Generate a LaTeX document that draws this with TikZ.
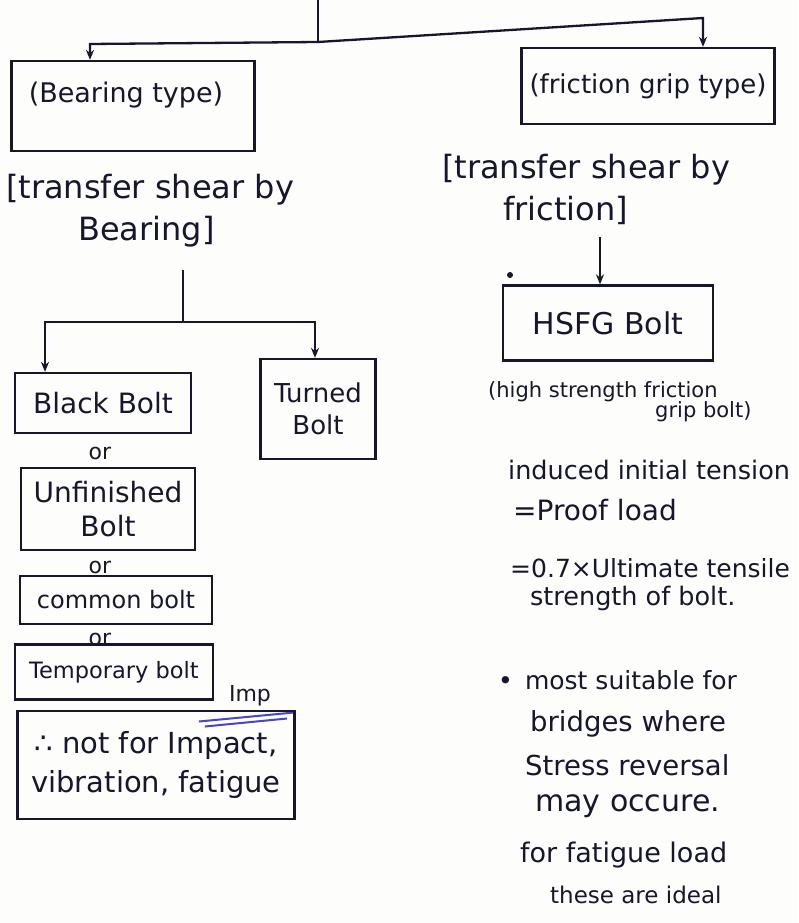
\documentclass[tikz,border=0pt]{standalone}
\usepackage{fontspec}
\setmainfont{DejaVu Sans}
\usetikzlibrary{arrows.meta}
\definecolor{ink}{RGB}{22,22,45}
\definecolor{paper}{RGB}{253,253,251}
\definecolor{blueink}{RGB}{70,70,200}
\begin{document}
\begin{tikzpicture}[x=1pt,y=-1pt,
  every node/.style={text=ink},
  hand/.style={font=\fontsize{#1}{#1}\selectfont, inner sep=0pt, align=center},
  hand/.default=24,
  boxnode/.style={draw=ink, line width=2.3pt, inner sep=0pt, align=center},
  line/.style={draw=ink, line width=2.3pt},
  arr/.style={line, -{Stealth[length=10pt,width=8pt]}}]
\path[fill=paper] (0,0) rectangle (798,923);
\useasboundingbox (0,0) rectangle (798,923);

% top split
\coordinate (top) at (318,0);
\coordinate (j0) at (318,42);
\coordinate (jL) at (90,44);
\coordinate (jR) at (703,18);

\node[boxnode, minimum width=243pt, minimum height=90pt] (bear) at (133,106) {};
\node[hand=27] (beartxt) at (126,95) {(Bearing type)};
\node[boxnode, minimum width=253pt, minimum height=76pt, hand=26] (fric) at (648,86) {(friction grip type)};

\draw[line] (top) -- (j0);
\draw[arr] (j0) -- (jL) -- (jL |- bear.north);
\draw[arr] (j0) -- (jR) -- (jR |- fric.north);

% left description
\node[hand=32, anchor=west] (bt1) at (6,190) {[transfer shear by};
\node[hand=32, anchor=west] (bt2) at (78,232) {Bearing]};

% right description
\node[hand=32, anchor=west] (ft1) at (442,170) {[transfer shear by};
\node[hand=32, anchor=west] (ft2) at (503,210) {friction]};

% left sub-split
\coordinate (k1) at (183,270);
\coordinate (k0) at (183,322);
\coordinate (kL) at (45,322);
\coordinate (kR) at (315,322);

\node[boxnode, minimum width=176pt, minimum height=60pt, hand=28] (black) at (103,403) {Black Bolt};
\node[boxnode, minimum width=115pt, minimum height=100pt, hand=26] (turned) at (318,409) {Turned\\[6pt]Bolt};

\draw[line] (k1) -- (k0);
\draw[arr] (k0) -- (kL) -- (kL |- black.north);
\draw[arr] (k0) -- (kR) -- (kR |- turned.north);

\node[hand=22] (or1) at (100,453) {or};
\node[boxnode, minimum width=174pt, minimum height=82pt, hand=28] (unfin) at (108,509) {Unfinished\\[6pt]Bolt};
\node[hand=22] (or2) at (100,567) {or};
\node[boxnode, minimum width=192pt, minimum height=48pt, hand=24] (common) at (116,600) {common bolt};
\node[hand=22] (or3) at (100,639) {or};
\node[boxnode, minimum width=198pt, minimum height=55pt, hand=22.5] (temp) at (114,672) {Temporary bolt};

\node[hand=22] (imp) at (250,696) {Imp};
\draw[draw=blueink, line width=2pt] (imp.south west) ++(-30,15) -- ++(95,-9);
\draw[draw=blueink, line width=2pt] (imp.south west) ++(-24,20) -- ++(82,-8);

\node[boxnode, minimum width=277pt, minimum height=108pt, hand=29] (notfor) at (156,765) {∴ not for Impact,\\[10pt]vibration, fatigue};

% right branch
\coordinate (dot) at (510,275);
\fill[ink] (dot) circle (3pt);
\coordinate (f1) at (600,237);
\node[boxnode, minimum width=210pt, minimum height=75pt, hand=30] (hsfg) at (608,323) {HSFG Bolt};
\draw[arr] (f1) -- (f1 |- hsfg.north);

\node[hand=21, anchor=west] (hs1) at (488,392) {(high strength friction};
\node[hand=21, anchor=west] (hs2) at (655,412) {grip bolt)};

\node[hand=25.5, anchor=west] (ind) at (508,470) {induced initial tension};
\node[hand=28, anchor=west] (proof) at (513,510) {=Proof load};
\node[hand=25, anchor=west] (ult) at (510,568) {=0.7×Ultimate tensile};
\node[hand=25.5, anchor=west] (str) at (530,598) {strength of bolt.};

\node[hand=25, anchor=west] (ms) at (498,680) {•\, most suitable for};
\node[hand=27.5, anchor=west] (br) at (530,724) {bridges where};
\node[hand=27.5, anchor=west] (sr) at (525,765) {Stress reversal};
\node[hand=30, anchor=west] (may) at (535,806) {may occure.};
\node[hand=27, anchor=west] (fat) at (520,855) {for fatigue load};
\node[hand=23, anchor=west] (ideal) at (550,895) {these are ideal};
\end{tikzpicture}
\end{document}
